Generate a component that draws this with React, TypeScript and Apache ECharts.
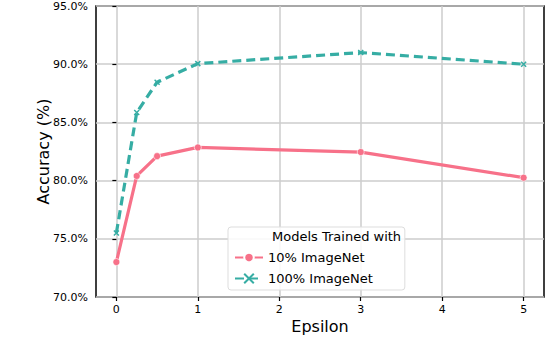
import React, { useEffect, useRef } from "react";
import * as echarts from "echarts";

const epsilons = [0, 0.25, 0.5, 1, 3, 5];
const acc10 = [73.0, 80.4, 82.1, 82.85, 82.45, 80.25];
const acc100 = [75.5, 85.85, 88.45, 90.05, 91.0, 90.0];
const xTicks = [0, 1, 2, 3, 4, 5];
const seriesNames = ["10% ImageNet", "100% ImageNet"];
const legendTitle = "Models Trained with";

const PINK = "#f77189";
const TEAL = "#36ada4";
const FONT = "DejaVu Sans";

export default function App() {
  const ref = useRef<HTMLDivElement>(null);
  useEffect(() => {
    if (!ref.current) return;
    const chart = echarts.init(ref.current, undefined, { renderer: "svg" });
    chart.setOption({
      animation: false,
      backgroundColor: "#fff",
      textStyle: { fontFamily: FONT },
      grid: {
        left: 96,
        right: 2,
        top: 6,
        bottom: 47,
        show: true,
        borderColor: "#000",
        borderWidth: 1.5,
        containLabel: false,
      },
      xAxis: {
        type: "value",
        min: -0.25,
        max: 5.25,
        name: "Epsilon",
        nameLocation: "middle",
        nameGap: 21,
        nameMoveOverlap: false,
        nameTextStyle: { fontSize: 16, color: "#000", verticalAlign: "top", fontFamily: FONT },
        axisLine: { show: false },
        axisTick: { show: true, customValues: xTicks, length: 4, lineStyle: { color: "#000", width: 1.2 } },
        axisLabel: { customValues: xTicks, color: "#000", fontSize: 11, margin: 7, fontFamily: FONT },
        splitLine: { show: true, lineStyle: { color: "#cccccc", width: 1.5 } },
      },
      yAxis: {
        type: "value",
        min: 70,
        max: 95,
        interval: 5,
        name: "Accuracy (%)",
        nameLocation: "middle",
        nameGap: 45,
        nameMoveOverlap: false,
        nameTextStyle: { fontSize: 16, color: "#000", fontFamily: FONT },
        axisLine: { show: false },
        axisTick: { show: true, length: 4, lineStyle: { color: "#000", width: 1.2 } },
        axisLabel: {
          color: "#000",
          fontSize: 11,
          margin: 8,
          fontFamily: FONT,
          formatter: (v: number) => v.toFixed(1) + "%",
        },
        splitLine: { show: true, lineStyle: { color: "#cccccc", width: 1.5 } },
      },
      legend: {
        left: 228,
        top: 227,
        orient: "vertical",
        backgroundColor: "rgba(255,255,255,0.85)",
        borderColor: "#dddddd",
        borderWidth: 1,
        borderRadius: 3,
        padding: [24, 32, 5, 6],
        itemWidth: 28,
        itemHeight: 12,
        itemGap: 8,
        textStyle: { fontSize: 13, color: "#000", fontFamily: FONT },
        data: seriesNames,
      },
      graphic: [
        {
          type: "text",
          left: 272,
          top: 230,
          z: 100,
          style: { text: legendTitle, fontSize: 13, fill: "#000", fontFamily: FONT },
        },
      ],
      series: [
        {
          name: seriesNames[0],
          type: "line",
          data: epsilons.map((e, i) => [e, acc10[i]]),
          symbol: "circle",
          symbolSize: 7,
          lineStyle: { color: PINK, width: 3.2 },
          itemStyle: { color: PINK, borderColor: "#fff", borderWidth: 0.6 },
          z: 3,
        },
        {
          name: seriesNames[1],
          type: "line",
          data: epsilons.map((e, i) => [e, acc100[i]]),
          symbol: "path://M0,0L10,10M10,0L0,10",
          symbolSize: 5,
          lineStyle: { color: TEAL, width: 3.2, type: [9, 5] },
          itemStyle: { color: TEAL, borderColor: TEAL, borderWidth: 1.5 },
          z: 4,
        },
      ],
    });
    return () => chart.dispose();
  }, []);
  return <div ref={ref} style={{ width: 546, height: 344, position: "absolute", left: 0, top: 0 }} />;
}
